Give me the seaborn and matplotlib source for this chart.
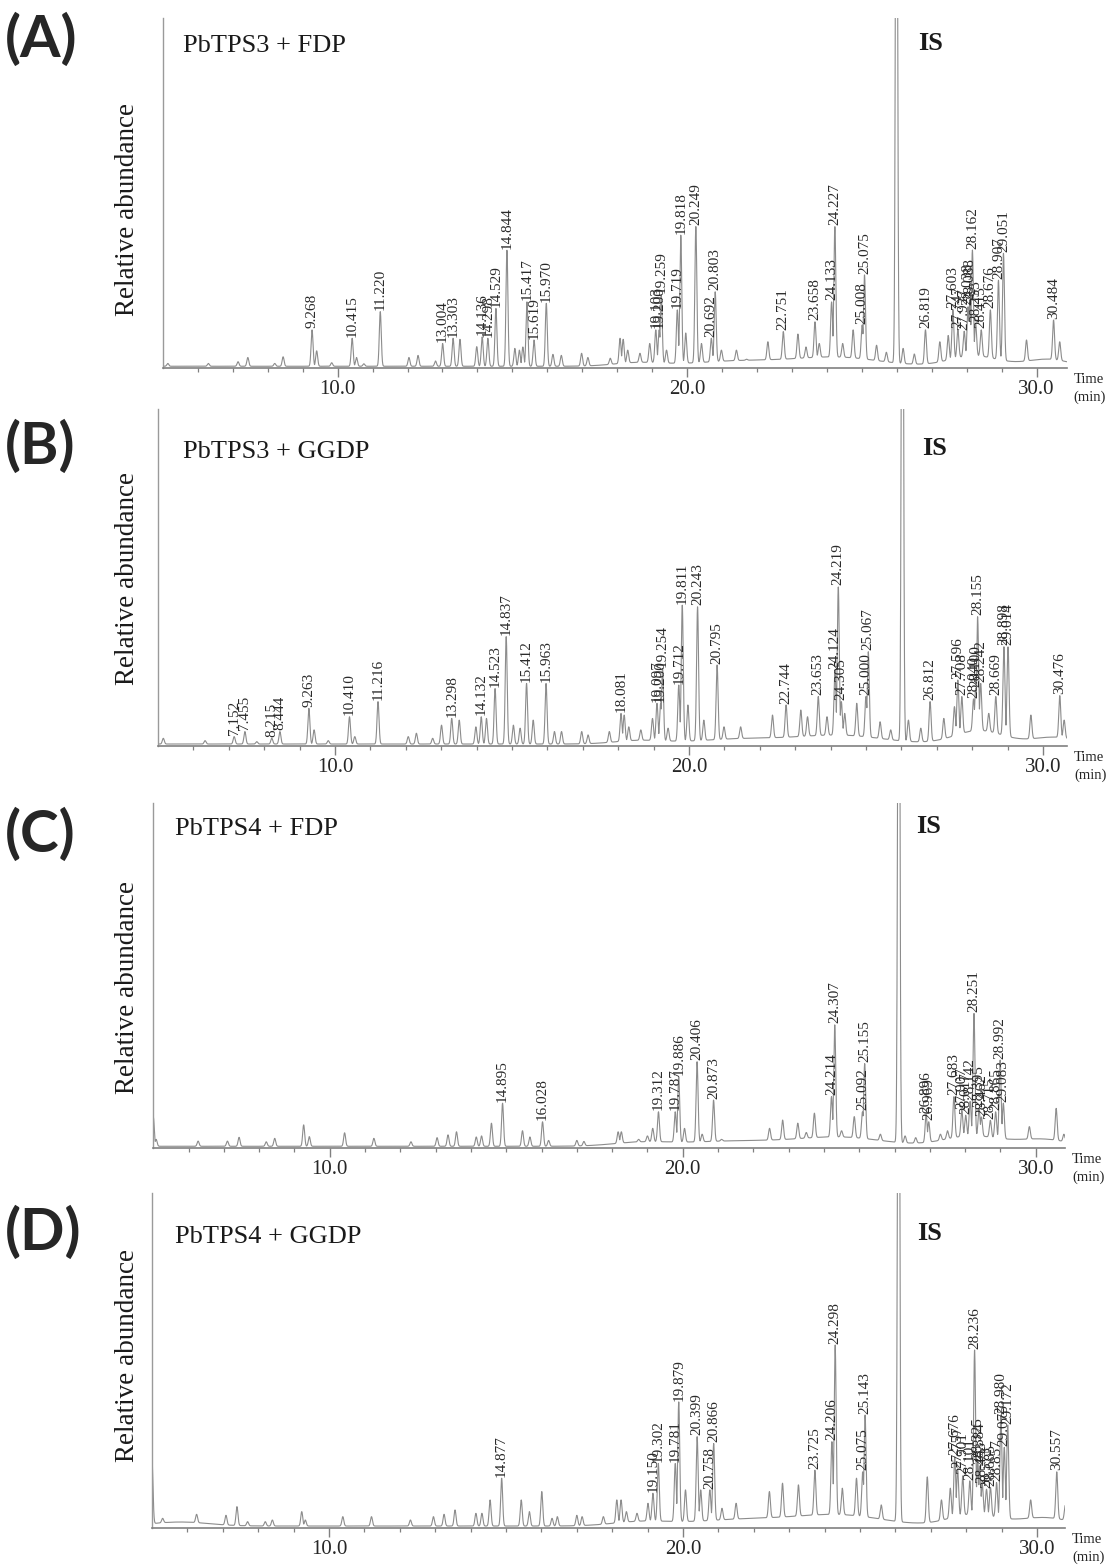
import numpy as np
import seaborn as sns
import matplotlib.pyplot as plt

# ---- peak data (time in min, height in % of panel) ----
# (A) PbTPS3 + FDP
a_lab_t = [9.268, 10.415, 11.220, 13.004, 13.303, 14.136, 14.298, 14.529, 14.844, 15.417,
           15.619, 15.970, 19.103, 19.200, 19.259, 19.719, 19.818, 20.249, 20.692, 20.803,
           22.751, 23.658, 24.133, 24.227, 25.008, 25.075, 26.819, 27.603, 27.747, 27.927,
           28.038, 28.088, 28.162, 28.255, 28.415, 28.676, 28.907, 29.051, 30.484]
a_lab_h = [10.9, 8.5, 16.1, 7.0, 8.5, 8.9, 8.5, 17.0, 33.7, 18.9,
           8.0, 18.5, 10.9, 10.9, 20.9, 16.6, 38.0, 40.4, 8.5, 21.8,
           10.4, 13.2, 18.9, 40.4, 12.3, 26.6, 10.9, 16.6, 10.9, 10.5,
           17.5, 18.9, 33.7, 12.6, 10.9, 16.6, 25.1, 32.8, 13.7]
a_bg_t = [5.14, 6.30, 7.15, 7.43, 8.20, 8.44, 9.40, 9.83, 10.54, 10.75,
          12.04, 12.30, 12.80, 13.50, 13.98, 15.07, 15.20, 15.30, 16.16, 16.40,
          16.98, 17.16, 17.80, 18.08, 18.17, 18.30, 18.65, 18.93, 19.41, 19.96,
          20.41, 20.98, 21.41, 21.70, 22.31, 23.17, 23.40, 23.78, 24.45, 24.75,
          25.42, 25.70, 26.18, 26.50, 27.23, 27.47, 29.71, 30.66]
a_bg_h = [1.3, 1.3, 1.8, 3.0, 1.3, 3.2, 4.9, 1.5, 3.0, 1.2,
          3.0, 3.6, 2.0, 8.2, 6.1, 5.6, 5.1, 6.0, 3.9, 3.6,
          4.2, 3.0, 2.8, 8.5, 8.2, 5.1, 4.2, 7.0, 5.1, 10.0,
          7.0, 5.1, 5.1, 2.5, 7.5, 9.7, 6.0, 7.0, 7.0, 10.9,
          6.5, 4.5, 5.6, 4.0, 7.5, 9.3, 8.0, 7.5]
a_hump_t = [18.6, 21.5, 24.3, 28.2, 30.3]
a_hump_h = [1.0, 1.5, 2.5, 3.0, 2.0]
a_hump_w = [0.7, 1.3, 1.2, 0.7, 0.6]
a_is_t = 25.99

# (B) PbTPS3 + GGDP
b_lab_t = [7.152, 7.455, 8.215, 8.444, 9.263, 10.410, 11.216, 13.298, 14.132, 14.523,
           14.837, 15.412, 15.963, 18.081, 19.097, 19.200, 19.254, 19.712, 19.811, 20.243,
           20.795, 22.744, 23.653, 24.124, 24.219, 24.305, 25.000, 25.067, 26.812, 27.596,
           27.708, 28.040, 28.100, 28.155, 28.242, 28.669, 28.898, 29.014, 30.476]
b_lab_h = [2.7, 4.2, 2.2, 4.2, 11.1, 8.6, 13.1, 8.1, 8.6, 17.0,
           32.4, 18.5, 18.5, 9.6, 12.6, 12.6, 23.0, 18.0, 41.8, 41.3,
           24.0, 12.1, 14.6, 22.5, 47.2, 13.1, 14.6, 27.9, 13.1, 19.5,
           14.6, 13.9, 17.0, 38.3, 18.5, 14.6, 29.4, 29.4, 14.9]
b_bg_t = [5.15, 6.33, 7.79, 9.41, 9.81, 10.56, 12.07, 12.30, 12.76, 13.01,
          13.51, 13.98, 14.28, 15.04, 15.23, 15.60, 16.20, 16.40, 16.97, 17.15,
          17.75, 18.17, 18.30, 18.64, 18.97, 19.41, 19.97, 20.42, 20.99, 21.46,
          22.36, 23.16, 23.35, 23.90, 24.40, 24.74, 25.40, 25.70, 26.20, 26.55,
          27.20, 27.50, 28.47, 29.66, 30.60]
b_bg_h = [2.2, 1.5, 1.2, 4.7, 1.5, 2.7, 2.7, 3.7, 2.2, 6.1,
          7.6, 5.6, 8.1, 6.1, 5.2, 7.6, 4.2, 4.2, 4.2, 3.2,
          4.2, 9.1, 5.6, 4.7, 8.1, 5.2, 12.1, 7.6, 5.6, 5.6,
          9.1, 10.6, 8.6, 8.6, 9.6, 12.6, 7.1, 4.7, 7.6, 5.2,
          8.1, 11.6, 9.6, 9.1, 7.6]
b_hump_t = [18.6, 21.5, 24.3, 28.2, 30.3]
b_hump_h = [1.0, 1.5, 2.5, 4.0, 2.0]
b_hump_w = [0.7, 1.3, 1.2, 0.7, 0.6]
b_is_t = 26.03

# (C) PbTPS4 + FDP
c_lab_t = [14.895, 16.028, 19.312, 19.787, 19.886, 20.406, 20.873, 24.214, 24.307, 25.092,
           25.155, 26.896, 26.969, 27.683, 27.907, 28.017, 28.142, 28.251, 28.395, 28.462,
           28.715, 28.865, 28.992, 29.083]
c_lab_h = [13.0, 7.6, 10.5, 10.5, 20.7, 25.0, 13.9, 14.9, 35.7, 10.5,
           24.5, 9.7, 7.6, 14.9, 11.0, 9.5, 13.5, 39.0, 11.5, 9.0,
           8.0, 10.5, 25.5, 13.0]
c_bg_t = [5.00, 5.08, 6.27, 7.10, 7.43, 8.20, 8.44, 9.26, 9.42, 10.42,
          11.25, 12.30, 13.04, 13.35, 13.59, 14.15, 14.30, 14.58, 15.46, 15.67,
          16.20, 17.00, 17.20, 18.17, 18.26, 18.75, 19.00, 19.15, 20.05, 20.55,
          21.10, 21.50, 22.46, 22.83, 23.26, 23.50, 23.73, 24.50, 24.86, 25.60,
          26.30, 26.60, 27.30, 27.50, 29.82, 30.58, 30.80]
c_bg_h = [9.0, 2.5, 2.0, 2.0, 3.1, 1.8, 2.8, 6.7, 3.3, 4.4,
          2.8, 1.8, 3.0, 3.8, 4.7, 3.2, 3.5, 7.2, 5.0, 3.2,
          2.2, 2.2, 1.9, 4.7, 4.7, 2.5, 3.5, 5.7, 5.7, 4.0,
          2.5, 2.0, 5.7, 8.1, 7.2, 4.5, 10.1, 5.0, 9.1, 4.0,
          3.5, 3.0, 4.0, 5.0, 6.2, 11.5, 4.0]
c_hump_t = [18.8, 21.5, 24.5, 28.2, 30.2]
c_hump_h = [1.0, 1.5, 2.5, 3.0, 2.0]
c_hump_w = [0.8, 1.5, 1.2, 0.8, 0.7]
c_is_t = 26.12

# (D) PbTPS4 + GGDP
d_lab_t = [14.877, 19.150, 19.302, 19.781, 19.879, 20.399, 20.758, 20.866, 23.725, 24.206,
           24.298, 25.075, 25.143, 27.676, 27.757, 27.901, 28.101, 28.236, 28.325, 28.384,
           28.453, 28.573, 28.685, 28.857, 28.980, 29.075, 29.172, 30.557]
d_lab_h = [14.8, 10.3, 19.2, 19.2, 37.6, 27.2, 11.3, 25.2, 17.2, 25.7,
           54.6, 16.7, 33.7, 21.2, 17.5, 15.5, 14.0, 53.1, 20.0, 18.5,
           13.0, 11.5, 12.0, 13.5, 33.7, 24.0, 30.7, 16.7]
d_bg_t = [5.00, 5.30, 6.26, 7.09, 7.40, 7.70, 8.20, 8.40, 9.23, 9.33,
          10.39, 11.20, 12.30, 12.95, 13.25, 13.56, 14.15, 14.32, 14.55, 15.43,
          15.66, 16.01, 16.30, 16.45, 17.00, 17.15, 17.75, 18.13, 18.25, 18.40,
          18.70, 19.01, 20.07, 20.50, 21.10, 21.50, 22.44, 22.81, 23.26, 24.50,
          24.90, 25.60, 26.90, 27.30, 27.55, 29.82, 30.80]
d_bg_h = [20.0, 2.8, 4.0, 3.7, 6.3, 1.8, 1.8, 2.3, 4.8, 2.3,
          3.3, 3.3, 2.3, 3.3, 4.0, 5.3, 4.3, 4.3, 8.3, 8.3,
          4.8, 10.8, 2.8, 3.3, 3.7, 3.3, 3.3, 8.3, 8.3, 4.8,
          4.3, 7.3, 11.3, 11.3, 5.8, 7.3, 10.8, 13.3, 12.8, 11.8,
          14.8, 6.8, 15.2, 8.3, 11.8, 8.3, 6.8]
d_hump_t = [5.8, 18.8, 21.8, 24.5, 28.2, 30.2]
d_hump_h = [1.2, 1.2, 2.0, 3.0, 3.5, 2.5]
d_hump_w = [0.8, 0.8, 1.5, 1.2, 0.7, 0.7]
d_is_t = 26.09

titles = ["PbTPS3 + FDP", "PbTPS3 + GGDP", "PbTPS4 + FDP", "PbTPS4 + GGDP"]
letters = ["(A)", "(B)", "(C)", "(D)"]

# ---- layout (pixels of the 1112 x 1567 canvas) ----
W, H = 1112, 1567
# left, right, bottom(axis line), top, xmax
frames = [(162.9, 1066.7, 368.0, 18.0, 30.86),
          (158.0, 1067.0, 745.7, 409.0, 30.68),
          (153.3, 1065.0, 1148.0, 803.0, 30.83),
          (152.0, 1065.0, 1527.7, 1193.0, 30.79)]
title_xy = [(0.022, 0.903), (0.027, 0.854), (0.024, 0.907), (0.025, 0.851)]
is_y = [0.909, 0.863, 0.912, 0.860]
letter_y = [40, 447, 835, 1233]
ylabel_y = [210, 578, 987, 1355]

panels = [
    (a_lab_t, a_lab_h, a_bg_t, a_bg_h, a_hump_t, a_hump_h, a_hump_w, a_is_t),
    (b_lab_t, b_lab_h, b_bg_t, b_bg_h, b_hump_t, b_hump_h, b_hump_w, b_is_t),
    (c_lab_t, c_lab_h, c_bg_t, c_bg_h, c_hump_t, c_hump_h, c_hump_w, c_is_t),
    (d_lab_t, d_lab_h, d_bg_t, d_bg_h, d_hump_t, d_hump_h, d_hump_w, d_is_t),
]

t = np.linspace(4.9, 31.0, 7000)
SIG = 0.028


def build_trace(lab_t, lab_h, bg_t, bg_h, hump_t, hump_h, hump_w, is_t):
    # slow baseline from the broad humps, then narrow peaks on top
    base = np.full_like(t, 0.5)
    for c, h, w in zip(hump_t, hump_h, hump_w):
        base += h * np.exp(-0.5 * ((t - c) / w) ** 2)
    peaks = np.zeros_like(t)
    for c, h in zip(list(lab_t) + list(bg_t) + [is_t], list(lab_h) + list(bg_h) + [220.0]):
        amp = max(h - np.interp(c, t, base), 0.0)
        peaks = np.maximum(peaks, amp * np.exp(-0.5 * ((t - c) / SIG) ** 2))
    return base + peaks


sns.set_style("white")
plt.rcParams['font.family'] = ['Liberation Serif', 'DejaVu Serif']

fig = plt.figure(figsize=(W / 100, H / 100), dpi=100)

for i, p in enumerate(panels):
    left, right, bot, top, xmax = frames[i]
    ax = fig.add_axes([left / W, 1 - bot / H, (right - left) / W, (bot - top) / H])
    y = build_trace(*p)
    sns.lineplot(x=t, y=y, ax=ax, color='#8c8c8c', linewidth=0.8, estimator=None, sort=False)
    ax.set_xlim(5.0, xmax)
    ax.set_ylim(0, 100)

    # peak labels
    lab_t, lab_h = p[0], p[1]
    for c, h in zip(lab_t, lab_h):
        ax.text(c, h + 0.4, f"{c:.3f}", rotation=90, ha='center', va='bottom',
                fontsize=11, color='#2a2a2a')

    ax.text(title_xy[i][0], title_xy[i][1], titles[i], transform=ax.transAxes,
            fontsize=19, va='baseline', ha='left', color='#1a1a1a')
    ax.text(26.6, is_y[i], "IS", transform=ax.get_xaxis_transform(),
            fontsize=19, fontweight='bold', va='baseline', ha='left', color='#1a1a1a')

    # axes styling
    for s in ['top', 'right']:
        ax.spines[s].set_visible(False)
    ax.spines['left'].set_color('#9a9a9a')
    ax.spines['left'].set_linewidth(1.0)
    ax.spines['bottom'].set_color('#808080')
    ax.spines['bottom'].set_linewidth(1.2)
    ax.set_yticks([])
    ax.set_xticks([10, 20, 30])
    ax.set_xticklabels(["10.0", "20.0", "30.0"], fontsize=15)
    ax.set_xticks(np.arange(6, 31, 1), minor=True)
    ax.tick_params(axis='x', which='major', direction='out', length=6.7, width=1.0,
                   color='#808080', pad=2, bottom=True)
    ax.tick_params(axis='x', which='minor', direction='out', length=3.1, width=0.9,
                   color='#808080', bottom=True)
    ax.set_xlabel("")
    ax.set_ylabel("")

    ax.annotate("Time", xy=(1, 0), xycoords='axes fraction', xytext=(5, -8.5),
                textcoords='offset points', ha='left', va='center', fontsize=10.5)
    ax.annotate("(min)", xy=(1, 0), xycoords='axes fraction', xytext=(5, -21),
                textcoords='offset points', ha='left', va='center', fontsize=10.5)

    fig.text(128 / W, 1 - ylabel_y[i] / H, "Relative abundance", rotation=90,
             ha='center', va='center', fontsize=19.5, color='#1a1a1a')
    fig.text(5 / W, 1 - letter_y[i] / H, letters[i], ha='left', va='center',
             fontsize=42, fontweight='bold', family=['Lato', 'DejaVu Sans'])

fig.savefig("out.png", dpi=100)
